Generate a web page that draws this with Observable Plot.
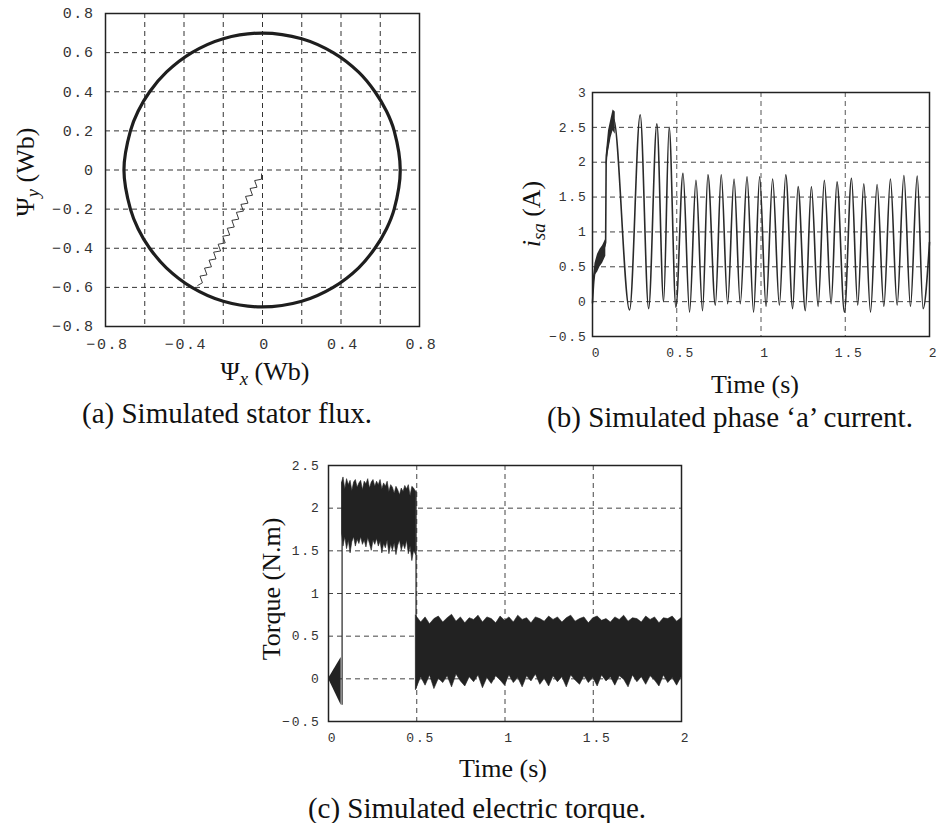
<!DOCTYPE html>
<html><head><meta charset="utf-8">
<script src="https://cdn.jsdelivr.net/npm/d3@7"></script>
<script src="https://cdn.jsdelivr.net/npm/@observablehq/plot@0.6"></script>
<style>
html,body{margin:0;padding:0;background:#fff;}
#wrap{position:relative;width:938px;height:823px;overflow:hidden;background:#fff;}
.panel{position:absolute;}
.lbl{position:absolute;font-family:"Liberation Serif",serif;color:#111;white-space:nowrap;transform:translate(-50%,-50%);line-height:1;}
.rot{transform:translate(-50%,-50%) rotate(-90deg);}
.cap{font-size:29px;}
.ax{font-size:26px;}
sub{font-size:0.72em;vertical-align:-0.28em;line-height:0;}
</style></head><body><div id="wrap"></div>
<script>
// ---------- (a) stator flux ----------
const fluxTicksX = [-0.8, -0.4, 0, 0.4, 0.8];
const fluxTicksY = [-0.8, -0.6, -0.4, -0.2, 0, 0.2, 0.4, 0.6, 0.8];
const fluxGrid = [-0.6, -0.4, -0.2, 0, 0.2, 0.4, 0.6];
const fluxX = [0.0, 0.2, 0.36, 0.49, 0.573, 0.632, 0.671, 0.702, 0.671, 0.632, 0.573, 0.49, 0.36, 0.2, -0.005, -0.2, -0.36, -0.49, -0.575, -0.634, -0.673, -0.706, -0.673, -0.634, -0.575, -0.49, -0.36, -0.2];
const fluxY = [0.70, 0.671, 0.6, 0.5, 0.4, 0.3, 0.2, 0, -0.2, -0.3, -0.4, -0.5, -0.6, -0.671, -0.70, -0.671, -0.6, -0.5, -0.4, -0.3, -0.2, 0, 0.2, 0.3, 0.4, 0.5, 0.6, 0.671];
const trajX = [-0.005, -0.005, -0.040, -0.028, -0.0635, -0.051, -0.0865, -0.074, -0.110, -0.097, -0.133, -0.121, -0.156, -0.144, -0.1795, -0.167, -0.2025, -0.190, -0.226, -0.2135, -0.249, -0.237, -0.2725, -0.260, -0.2955, -0.283, -0.3185, -0.306, -0.33];
const trajY = [-0.02, -0.047, -0.054, -0.088, -0.0945, -0.129, -0.135, -0.1695, -0.176, -0.210, -0.2165, -0.251, -0.2575, -0.2915, -0.298, -0.3325, -0.3385, -0.373, -0.3795, -0.414, -0.420, -0.4545, -0.461, -0.495, -0.5015, -0.536, -0.5425, -0.5765, -0.59];

// ---------- (b) phase a current ----------
const curTicksX = [0, 0.5, 1, 1.5, 2];
const curTicksY = [-0.5, 0, 0.5, 1, 1.5, 2, 2.5, 3];
const curGridX = [0.5, 1, 1.5];
const curGridY = [0, 0.5, 1, 1.5, 2, 2.5];
const curT = [0, 0.008, 0.02, 0.035, 0.05, 0.065, 0.078, 0.081, 0.095, 0.11, 0.125, 0.22, 0.283, 0.333, 0.382, 0.422, 0.455, 0.495,
  0.537, 0.576, 0.614, 0.653, 0.685, 0.729, 0.764, 0.802, 0.840, 0.877, 0.917, 0.956, 0.992, 1.030, 1.069, 1.109, 1.147, 1.188,
  1.220, 1.263, 1.299, 1.339, 1.376, 1.416, 1.451, 1.495, 1.537, 1.574, 1.610, 1.650, 1.689, 1.729, 1.768, 1.808, 1.848, 1.887,
  1.927, 1.962, 2.0];
const curV = [-0.02, 0.3, 0.48, 0.56, 0.66, 0.75, 0.85, 2.0, 2.3, 2.52, 2.62, -0.12, 2.68, -0.1, 2.55, 0.0, 2.5, -0.08,
  1.84, -0.15, 1.74, -0.13, 1.82, -0.05, 1.82, -0.03, 1.76, -0.03, 1.79, -0.15, 1.79, -0.07, 1.76, -0.05, 1.82, -0.1,
  1.65, -0.13, 1.65, -0.07, 1.74, -0.03, 1.72, -0.15, 1.77, -0.05, 1.69, -0.15, 1.68, -0.07, 1.76, -0.05, 1.81, -0.07,
  1.80, -0.1, 0.85];
// noisy start-up bands of the current
const rampT = [0.003, 0.015, 0.03, 0.045, 0.06, 0.079];
const rampLow = [0.0, 0.38, 0.42, 0.5, 0.55, 0.65];
const rampHigh = [0.3, 0.55, 0.68, 0.75, 0.8, 0.9];
const hump1T = [0.081, 0.095, 0.11, 0.122, 0.135];
const hump1Low = [1.95, 2.15, 2.35, 2.45, 2.4];
const hump1High = [2.1, 2.45, 2.62, 2.75, 2.72];

// ---------- (c) electric torque ----------
const torTicksX = [0, 0.5, 1, 1.5, 2];
const torTicksY = [-0.5, 0, 0.5, 1, 1.5, 2, 2.5];
const torGridX = [0.5, 1, 1.5];
const torGridY = [0, 0.5, 1, 1.5, 2];
const startT = [0, 0.072];
const startLow = [0, -0.31];
const startHigh = [0, 0.25];
const jumpT = [0.077, 0.496];
const jumpLow = [-0.31, -0.12];
const jumpHigh = [2.3, 2.2];
const band1T = [0.077, 0.085,0.095,0.105,0.115,0.125,0.135,0.145,0.155,0.165,0.175, 0.185,0.195,0.205,0.215,0.225,0.235,0.245,0.255,0.265,0.275,
  0.285,0.295,0.305,0.315,0.325,0.335,0.345,0.355,0.365,0.375, 0.385,0.395,0.405,0.415,0.425,0.435,0.445,0.455,0.465,0.475, 0.485, 0.496];
const band1High = [2.30, 2.36,2.22,2.34,2.27,2.32,2.20,2.30,2.33,2.24,2.29, 2.32,2.21,2.31,2.28,2.34,2.23,2.30,2.33,2.25,2.31,
  2.27,2.33,2.22,2.29,2.25,2.31,2.19,2.27,2.24,2.17, 2.25,2.21,2.15,2.23,2.19,2.26,2.22,2.27,2.14,2.25, 2.23, 2.19];
const band1Low = [1.70, 1.55,1.66,1.52,1.62,1.47,1.60,1.66,1.55,1.63,1.58, 1.66,1.57,1.62,1.54,1.65,1.58,1.50,1.62,1.57,1.64,
  1.55,1.61,1.47,1.58,1.53,1.62,1.46,1.57,1.50,1.59, 1.45,1.56,1.62,1.50,1.58,1.52,1.62,1.46,1.55,1.38, 1.50, 1.45];
const band2T = [0.496, 0.525,0.55,0.575,0.6,0.625,0.65,0.675,0.7,0.725,0.75, 0.775,0.8,0.825,0.85,0.875,0.9,0.925,0.95,0.975,1.0,
  1.025,1.05,1.075,1.1,1.125,1.15,1.175,1.2,1.225,1.25, 1.275,1.3,1.325,1.35,1.375,1.4,1.425,1.45,1.475,1.5,
  1.525,1.55,1.575,1.6,1.625,1.65,1.675,1.7,1.725,1.75, 1.775,1.8,1.825,1.85,1.875,1.9,1.925,1.95,1.975,2.0];
const band2High = [0.74, 0.66,0.72,0.64,0.70,0.73,0.66,0.71,0.75,0.67,0.72, 0.65,0.71,0.69,0.74,0.66,0.72,0.70,0.65,0.73,0.68,
  0.72,0.66,0.74,0.69,0.71,0.65,0.72,0.70,0.67,0.73, 0.69,0.72,0.66,0.71,0.74,0.67,0.70,0.72,0.65,0.71,
  0.73,0.68,0.70,0.66,0.72,0.69,0.74,0.67,0.71,0.70, 0.66,0.73,0.69,0.72,0.65,0.71,0.70,0.73,0.67,0.71];
const band2Low = [-0.13, 0.02,-0.08,0.04,-0.12,0.0,-0.05,0.03,-0.1,0.05,-0.03, -0.09,0.02,-0.04,0.04,-0.11,0.01,-0.06,0.03,-0.02,-0.08,
  0.04,-0.05,0.01,-0.1,0.03,-0.03,0.05,-0.07,0.0,-0.09, 0.03,-0.04,0.02,-0.1,0.04,-0.02,-0.07,0.03,-0.05,0.01,
  -0.09,0.04,-0.03,0.02,-0.08,0.03,-0.01,-0.1,0.04,-0.04, 0.02,-0.07,0.03,-0.02,-0.09,0.04,-0.05,0.01,-0.08,0.02];

const wrap = document.getElementById("wrap");
function place(svg, left, top) {
  const d = document.createElement("div");
  d.className = "panel";
  d.style.left = left + "px";
  d.style.top = top + "px";
  d.appendChild(svg);
  wrap.appendChild(d);
}
function label(html, x, y, cls) {
  const d = document.createElement("div");
  d.className = "lbl " + cls;
  d.style.left = x + "px";
  d.style.top = y + "px";
  d.innerHTML = html;
  wrap.appendChild(d);
}
const fmt = (d) => (d < 0 ? "\u2212" : "") + String(Math.abs(d));
const gridStyle = {stroke: "#333", strokeDasharray: "5,4", strokeWidth: 1};
const idx = (a) => ({length: a.length});

// (a)
place(Plot.plot({
  width: 440, height: 360,
  marginLeft: 105, marginRight: 21, marginTop: 13, marginBottom: 34,
  x: {domain: [-0.8, 0.8]}, y: {domain: [-0.8, 0.8]},
  style: {fontFamily: "Liberation Mono", letterSpacing: "1.6px", background: "transparent", overflow: "visible"},
  marks: [
    Plot.ruleX(fluxGrid, gridStyle),
    Plot.ruleY(fluxGrid, gridStyle),
    Plot.line(idx(fluxX), {x: fluxX, y: fluxY, curve: "catmull-rom-closed", stroke: "#1e1e1e", strokeWidth: 3.2}),
    Plot.line(idx(trajX), {x: trajX, y: trajY, stroke: "#222", strokeWidth: 0.9}),
    Plot.frame({stroke: "#222", strokeWidth: 1.5}),
    Plot.axisX({ticks: fluxTicksX, tickFormat: fmt, tickSize: 0, tickPadding: 12, dx: 2, fontSize: 15, fill: "#333", label: null}),
    Plot.axisY({ticks: fluxTicksY, tickFormat: fmt, tickSize: 0, tickPadding: 11, fontSize: 15, fill: "#333", label: null})
  ]
}), 0, 0);

// (b)
place(Plot.plot({
  width: 398, height: 300,
  marginLeft: 52, marginRight: 9, marginTop: 32, marginBottom: 24,
  x: {domain: [0, 2]}, y: {domain: [-0.5, 3]},
  style: {fontFamily: "Liberation Mono", letterSpacing: "1.8px", background: "transparent", overflow: "visible"},
  marks: [
    Plot.ruleX(curGridX, {...gridStyle, stroke: "#555"}),
    Plot.ruleY(curGridY, {...gridStyle, stroke: "#444"}),
    Plot.areaY(idx(rampT), {x: rampT, y1: rampLow, y2: rampHigh, fill: "#2a2a2a"}),
    Plot.areaY(idx(hump1T), {x: hump1T, y1: hump1Low, y2: hump1High, fill: "#2a2a2a"}),
    Plot.line(idx(curT), {x: curT, y: curV, curve: "monotone-x", stroke: "#2a2a2a", strokeWidth: 1.6}),
    Plot.frame({stroke: "#222", strokeWidth: 1.5}),
    Plot.axisX({ticks: curTicksX, tickFormat: fmt, tickSize: 0, tickPadding: 11, dx: 4, fontSize: 13, fill: "#333", label: null}),
    Plot.axisY({ticks: curTicksY, tickFormat: fmt, tickSize: 0, tickPadding: 5, fontSize: 13, fill: "#333", label: null})
  ]
}), 540, 60);

// (c)
place(Plot.plot({
  width: 460, height: 320,
  marginLeft: 88, marginRight: 19, marginTop: 25, marginBottom: 39,
  x: {domain: [0, 2]}, y: {domain: [-0.5, 2.5]},
  style: {fontFamily: "Liberation Mono", letterSpacing: "1.8px", background: "transparent", overflow: "visible"},
  marks: [
    Plot.ruleX(torGridX, {...gridStyle, stroke: "#444"}),
    Plot.ruleY(torGridY, {...gridStyle, stroke: "#444"}),
    Plot.areaY(idx(startT), {x: startT, y1: startLow, y2: startHigh, fill: "#222"}),
    Plot.ruleX(idx(jumpT), {x: jumpT, y1: jumpLow, y2: jumpHigh, stroke: "#222", strokeWidth: 1.2}),
    Plot.areaY(idx(band1T), {x: band1T, y1: band1Low, y2: band1High, fill: "#222", stroke: "#222", strokeWidth: 0.6}),
    Plot.areaY(idx(band2T), {x: band2T, y1: band2Low, y2: band2High, fill: "#222", stroke: "#222", strokeWidth: 0.6}),
    Plot.frame({stroke: "#222", strokeWidth: 1.5}),
    Plot.axisX({ticks: torTicksX, tickFormat: fmt, tickSize: 0, tickPadding: 11, dx: 4, fontSize: 13, fill: "#333", label: null}),
    Plot.axisY({ticks: torTicksY, tickFormat: fmt, tickSize: 0, tickPadding: 8, fontSize: 13, fill: "#333", label: null})
  ]
}), 240, 440);

// labels & captions
label("Ψ<sub><i>y</i></sub> (Wb)", 26, 172, "ax rot");
label("Ψ<sub><i>x</i></sub> (Wb)", 265, 372, "ax");
label("(a) Simulated stator flux.", 227, 413, "cap");
label("<i>i</i><sub><i>sa</i></sub> (A)", 532, 214, "ax rot");
label("Time (s)", 755, 385, "ax");
label("(b) Simulated phase ‘a’ current.", 730, 417, "cap");
label("Torque (N.m)", 272, 589, "ax rot");
label("Time (s)", 503, 769, "ax");
label("(c) Simulated electric torque.", 477, 808, "cap");
</script>
</body></html>
